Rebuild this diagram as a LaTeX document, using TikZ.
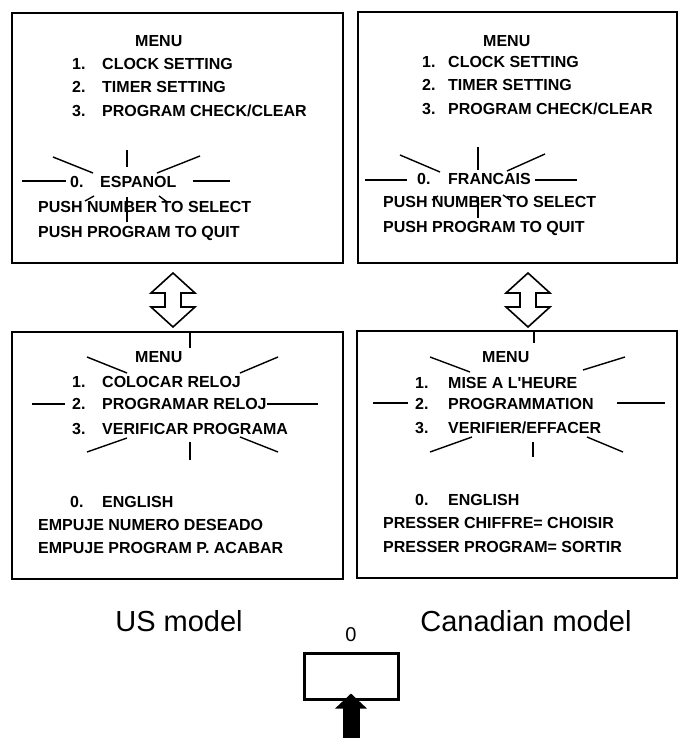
\documentclass[tikz,border=0pt]{standalone}
\usepackage{fontspec}
\setmainfont{Liberation Sans}
\usetikzlibrary{arrows.meta}
\tikzset{
        menubox/.style={draw, line width=1.6pt, inner sep=0pt},
        menuline/.style={anchor=base west, inner sep=0pt, font=\bfseries\fontsize{16}{18}\selectfont},
        ray/.style={line width=1.4pt},
        swaparrow/.style={draw, line width=1.6pt, fill=white, line join=miter},
        modellabel/.style={anchor=base, inner sep=0pt, font=\fontsize{29}{32}\selectfont},
        keylabel/.style={anchor=base, inner sep=0pt, font=\fontsize{20}{22}\selectfont},
        pusharrow/.style={line width=17pt, -{Triangle[width=31pt,length=15pt]}}
}

\begin{document}
\begin{tikzpicture}[x=1pt, y=-1pt]
        \useasboundingbox (0,0) rectangle (679,738);

        % the four screens
        \node (usTop) [menubox, minimum width=331pt, minimum height=250pt] at (177.5,138) {};
        \node (caTop) [menubox, minimum width=319pt, minimum height=251pt] at (517.5,137.5) {};
        \node (usBot) [menubox, minimum width=331pt, minimum height=247pt] at (177.5,455.5) {};
        \node (caBot) [menubox, minimum width=320pt, minimum height=247pt] at (517,454.5) {};

        % US model, first screen
        \node (usTopMenu) [menuline] at (135,47) {MENU};
        \node (usTopN1) [menuline] at (72,70) {1.};
        \node (usTopL1) [menuline] at (102,70) {CLOCK SETTING};
        \node (usTopN2) [menuline] at (72,93) {2.};
        \node (usTopL2) [menuline] at (102,93) {TIMER SETTING};
        \node (usTopN3) [menuline] at (72,117) {3.};
        \node (usTopL3) [menuline] at (102,117) {PROGRAM CHECK/CLEAR};
        \node (usTopN0) [menuline] at (70,187) {0.};
        \node (usTopL0) [menuline] at (100,187) {ESPANOL};
        \node (usTopPush1) [menuline] at (38,212) {PUSH NUMBER TO SELECT};
        \node (usTopPush2) [menuline] at (38,237) {PUSH PROGRAM TO QUIT};

        % Canadian model, first screen
        \node (caTopMenu) [menuline] at (483,47) {MENU};
        \node (caTopN1) [menuline] at (422,68) {1.};
        \node (caTopL1) [menuline] at (448,68) {CLOCK SETTING};
        \node (caTopN2) [menuline] at (422,91) {2.};
        \node (caTopL2) [menuline] at (448,91) {TIMER SETTING};
        \node (caTopN3) [menuline] at (422,115) {3.};
        \node (caTopL3) [menuline] at (448,115) {PROGRAM CHECK/CLEAR};
        \node (caTopN0) [menuline] at (417,184) {0.};
        \node (caTopL0) [menuline] at (448,184) {FRANCAIS};
        \node (caTopPush1) [menuline] at (383,207) {PUSH NUMBER TO SELECT};
        \node (caTopPush2) [menuline] at (383,232) {PUSH PROGRAM TO QUIT};

        % US model, second screen
        \node (usBotMenu) [menuline] at (135,362) {MENU};
        \node (usBotN1) [menuline] at (72,387) {1.};
        \node (usBotL1) [menuline] at (102,387) {COLOCAR RELOJ};
        \node (usBotN2) [menuline] at (72,409) {2.};
        \node (usBotL2) [menuline] at (102,409) {PROGRAMAR RELOJ};
        \node (usBotN3) [menuline] at (72,434) {3.};
        \node (usBotL3) [menuline] at (102,434) {VERIFICAR PROGRAMA};
        \node (usBotN0) [menuline] at (70,507) {0.};
        \node (usBotL0) [menuline] at (102,507) {ENGLISH};
        \node (usBotPush1) [menuline] at (38,530) {EMPUJE NUMERO DESEADO};
        \node (usBotPush2) [menuline] at (38,553) {EMPUJE PROGRAM P. ACABAR};

        % Canadian model, second screen
        \node (caBotMenu) [menuline] at (482,362) {MENU};
        \node (caBotN1) [menuline] at (415,388) {1.};
        \node (caBotL1) [menuline] at (448,388) {MISE A L\textquotesingle HEURE};
        \node (caBotN2) [menuline] at (415,409) {2.};
        \node (caBotL2) [menuline] at (448,409) {PROGRAMMATION};
        \node (caBotN3) [menuline] at (415,433) {3.};
        \node (caBotL3) [menuline] at (448,433) {VERIFIER/EFFACER};
        \node (caBotN0) [menuline] at (415,505) {0.};
        \node (caBotL0) [menuline] at (448,505) {ENGLISH};
        \node (caBotPush1) [menuline] at (383,528) {PRESSER CHIFFRE= CHOISIR};
        \node (caBotPush2) [menuline] at (383,552) {PRESSER PROGRAM= SORTIR};

        % flashing marks
        \draw[ray] (127,150) -- (127,167);
        \draw[ray] (53,157) -- (93,173);
        \draw[ray] (157,173) -- (200,156);
        \draw[ray] (22,181) -- (66,181);
        \draw[ray] (193,181) -- (230,181);
        \draw[ray] (85,201) -- (94,196);
        \draw[ray] (159,196) -- (167,202);
        \draw[ray] (127,197) -- (127,222);

        \draw[ray] (478,147) -- (478,170);
        \draw[ray] (400,155) -- (440,172);
        \draw[ray] (507,171) -- (545,154);
        \draw[ray] (365,180) -- (407,180);
        \draw[ray] (535,180) -- (577,180);
        \draw[ray] (432,200) -- (438,196);
        \draw[ray] (503,195) -- (510,200);
        \draw[ray] (478,197) -- (478,218);

        \draw[ray] (190,332) -- (190,348);
        \draw[ray] (87,357) -- (127,373);
        \draw[ray] (240,373) -- (278,357);
        \draw[ray] (32,404) -- (65,404);
        \draw[ray] (267,404) -- (318,404);
        \draw[ray] (87,452) -- (127,438);
        \draw[ray] (240,437) -- (278,452);
        \draw[ray] (190,442) -- (190,460);

        \draw[ray] (534,331) -- (534,343);
        \draw[ray] (430,357) -- (470,372);
        \draw[ray] (583,370) -- (625,357);
        \draw[ray] (373,403) -- (408,403);
        \draw[ray] (617,403) -- (665,403);
        \draw[ray] (430,452) -- (472,437);
        \draw[ray] (587,437) -- (623,452);
        \draw[ray] (533,442) -- (533,457);

        % toggles between the screens
        \draw[swaparrow] (173,273) -- ++(22,20) -- ++(-14,0) -- ++(0,14) -- ++(14,0) -- ++(-22,20)
                -- ++(-22,-20) -- ++(14,0) -- ++(0,-14) -- ++(-14,0) -- cycle;
        \draw[swaparrow] (528,273) -- ++(22,20) -- ++(-14,0) -- ++(0,14) -- ++(14,0) -- ++(-22,20)
                -- ++(-22,-20) -- ++(14,0) -- ++(0,-14) -- ++(-14,0) -- cycle;

        % models and key
        \node (usLabel) [modellabel] at (179,631) {US model};
        \node (caLabel) [modellabel] at (526,631) {Canadian model};
        \node (btn) [draw, line width=3pt, minimum width=94pt, minimum height=46pt] at (351,676) {};
        \node (btnLabel) [keylabel] at (351,641) {0};
        \coordinate (push) at (351,738);
        \draw[pusharrow] (push) -- ([yshift=7pt]btn.south);
\end{tikzpicture}
\end{document}
